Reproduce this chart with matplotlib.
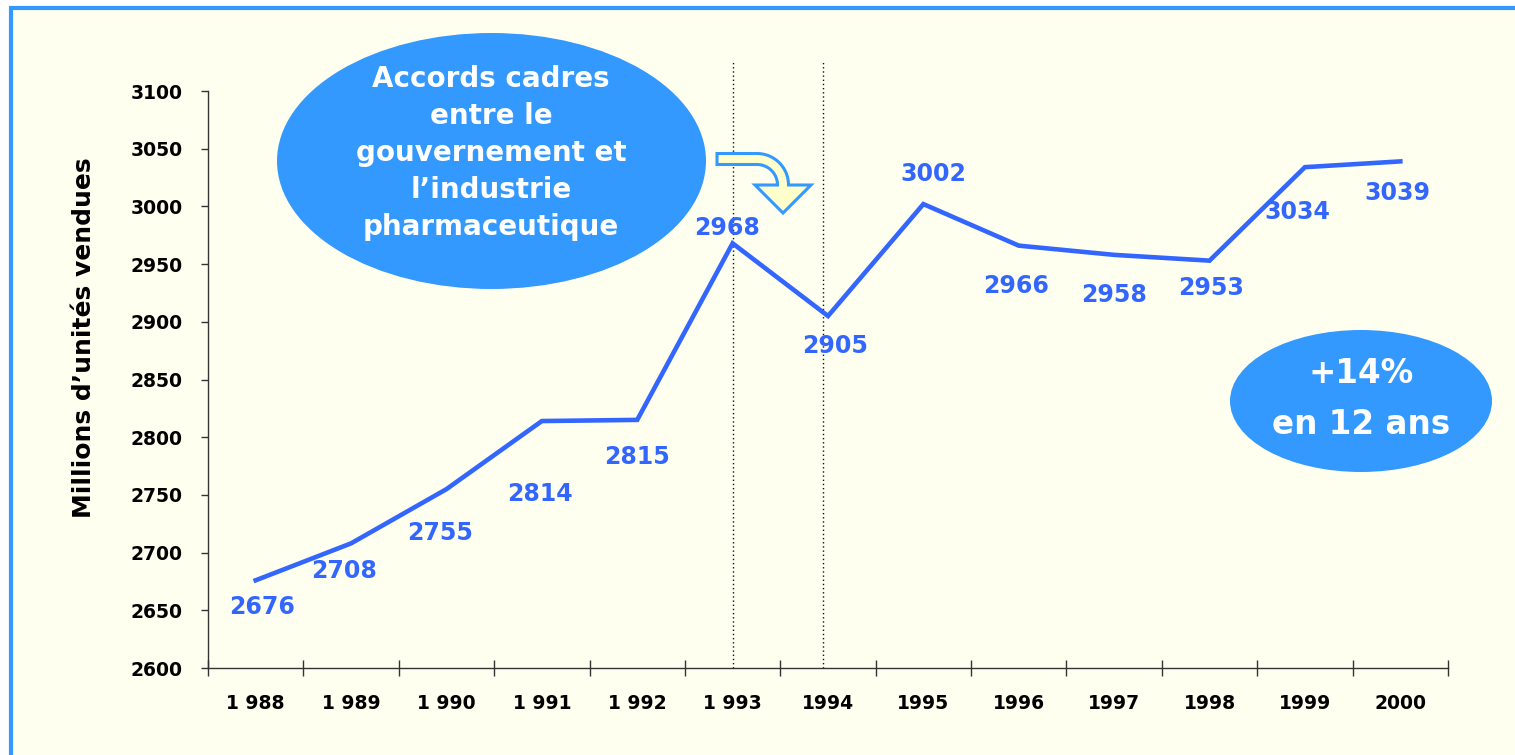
import numpy as np
import matplotlib.pyplot as plt
from matplotlib.patches import Ellipse, Rectangle, Polygon

annees = ["1 988", "1 989", "1 990", "1 991", "1 992", "1 993",
          "1994", "1995", "1996", "1997", "1998", "1999", "2000"]
unites = [2676, 2708, 2755, 2814, 2815, 2968, 2905, 3002, 2966, 2958, 2953, 3034, 3039]

# decalage des etiquettes (pixels) par rapport au point
decalages = [(6, -27), (-7, -28), (-6, -44), (-2, -73), (0, -37), (-6, 15), (7, -30),
             (10, 30), (-3, -40), (0, -40), (2, -27), (-8, -45), (-3, -32)]

W, H = 1515, 755
bleu = "#3366FF"
bleu_clair = "#3399FF"


def px(x, y):
    return x / W, 1 - y / H


fig = plt.figure(figsize=(W / 100, H / 100), dpi=100, facecolor="white")

# cadre
fig.add_artist(Rectangle(px(10.5, 770), 1540 / W, (770 - 7.5) / H,
                         transform=fig.transFigure, facecolor="#FFFFF0",
                         edgecolor=bleu_clair, lw=3, zorder=0))

ax = fig.add_axes([208 / W, (H - 668) / H, (1448 - 208) / W, (668 - 91) / H])
ax.set_facecolor("none")

x = list(range(len(annees)))
ax.plot(x, unites, color=bleu, lw=3.3, solid_joinstyle="miter", zorder=3)
for xi, v, d in zip(x, unites, decalages):
    ax.annotate(str(v), (xi, v), xytext=d, textcoords="offset pixels",
                ha="center", va="center", color=bleu, fontsize=17,
                fontweight="bold", zorder=4)

ax.set_xlim(-0.5, len(annees) - 0.5)
ax.set_ylim(2600, 3100)
ax.set_yticks(range(2600, 3101, 50))
ax.set_xticks([i - 0.5 for i in range(len(annees) + 1)])
ax.set_xticklabels([])
ax.set_xticks(x, minor=True)
ax.set_xticklabels(annees, minor=True)
ax.tick_params(axis="x", which="major", direction="inout", length=11, width=1, color="#333333")
ax.tick_params(axis="x", which="minor", length=0, pad=19, labelsize=13.5)
ax.tick_params(axis="y", direction="out", length=5, width=1, color="#333333", pad=13,
               labelsize=13.5)
for lab in ax.get_xticklabels(minor=True) + ax.get_yticklabels():
    lab.set_fontweight("bold")
for s in ["top", "right"]:
    ax.spines[s].set_visible(False)
for s in ["left", "bottom"]:
    ax.spines[s].set_color("#333333")
    ax.spines[s].set_linewidth(1)

# periode des accords
ax.vlines([5, 5.95], 2600, 3127, colors="#111111", lw=1.0,
          linestyles=[(0, (1, 2))], clip_on=False, zorder=2)

fig.text(84 / W, 1 - 338 / H, "Millions d\u2019unités vendues", rotation=90,
         ha="center", va="center", fontsize=18, fontweight="bold")

# bulles
fig.add_artist(Ellipse(px(491.5, 161), 429 / W, 256 / H, transform=fig.transFigure,
                       facecolor=bleu_clair, edgecolor="none", zorder=1))
fig.text(*px(491, 153), "Accords cadres\nentre le\ngouvernement et\nl\u2019industrie\npharmaceutique",
         ha="center", va="center", color="white", fontsize=20, fontweight="bold",
         linespacing=1.42, zorder=5)

fig.add_artist(Ellipse(px(1361, 401), 262 / W, 142 / H, transform=fig.transFigure,
                       facecolor=bleu_clair, edgecolor="none", zorder=1))
fig.text(*px(1361, 399), "+14%\nen 12 ans", ha="center", va="center", color="white",
         fontsize=23.5, fontweight="bold", linespacing=1.68, zorder=5)

# fleche courbe
cx, cy = 757, 185
t = np.linspace(-np.pi / 2, 0, 20)
ext = [(cx + 31.5 * np.cos(a), cy + 31.5 * np.sin(a)) for a in t]
inn = [(cx + 20.5 * np.cos(a), cy + 20.5 * np.sin(a)) for a in t[::-1]]
contour = ([(717, 153.5)] + ext + [(811, 185), (783, 213), (755, 185)]
           + inn + [(717, 164.5)])
fig.add_artist(Polygon([px(a, b) for a, b in contour], closed=True,
                       transform=fig.transFigure, facecolor="#FFFFCC",
                       edgecolor=bleu_clair, lw=2.2, joinstyle="miter", zorder=5))

fig.savefig("out.png", dpi=100, facecolor=fig.get_facecolor())
